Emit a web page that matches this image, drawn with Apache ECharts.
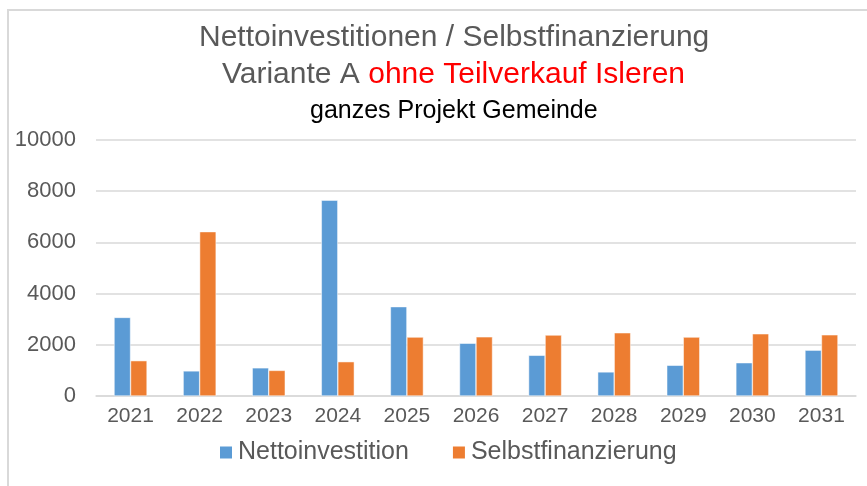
<!DOCTYPE html>
<html>
<head>
<meta charset="utf-8">
<script src="https://cdn.jsdelivr.net/npm/echarts@6/dist/echarts.min.js"></script>
<style>
    html, body { margin: 0; padding: 0; background: #fff; }
    #chart { width: 867px; height: 486px; }
</style>
</head>
<body>
<div id="chart"></div>
<script>
const years = ['2021', '2022', '2023', '2024', '2025', '2026', '2027', '2028', '2029', '2030', '2031'];
const nettoinvestition = [3070, 980, 1100, 7650, 3490, 2060, 1590, 940, 1200, 1300, 1790];
const selbstfinanzierung = [1380, 6420, 1000, 1340, 2300, 2310, 2380, 2470, 2300, 2430, 2390];
const yTicks = [0, 2000, 4000, 6000, 8000, 10000];

const font = 'Liberation Sans, Arial, sans-serif';
const gray = '#595959';

let chart = echarts.init(document.getElementById('chart'), null, { renderer: 'canvas' });

let option = {
    animation: false,
    backgroundColor: '#fff',
    color: ['#5B9BD5', '#ED7D31'],
    graphic: [
        {
            type: 'rect',
            shape: { x: 8, y: 10, width: 900, height: 520 },
            style: { fill: 'none', stroke: '#D9D9D9', lineWidth: 2 },
            silent: true
        }
    ],
    title: [
        {
            text: 'Nettoinvestitionen / Selbstfinanzierung',
            left: 199,
            top: 23,
            padding: 0,
            textStyle: { fontFamily: font, fontSize: 30, fontWeight: 'normal', color: gray, lineHeight: 30 }
        },
        {
            text: '{g|Variante A }{r|ohne Teilverkauf Isleren}',
            left: 222,
            top: 60,
            padding: 0,
            textStyle: {
                fontFamily: font,
                fontSize: 30,
                fontWeight: 'normal',
                lineHeight: 30,
                rich: {
                    g: { fontFamily: font, fontSize: 30, fontWeight: 'normal', color: gray, lineHeight: 30 },
                    r: { fontFamily: font, fontSize: 30, fontWeight: 'normal', color: '#FF0000', lineHeight: 30 }
                }
            }
        },
        {
            text: 'ganzes Projekt Gemeinde',
            left: 310,
            top: 99,
            padding: 0,
            textStyle: { fontFamily: font, fontSize: 25, fontWeight: 'normal', color: '#000', lineHeight: 25 }
        }
    ],
    legend: {
        left: 218,
        top: 440,
        padding: 0,
        itemWidth: 14,
        itemHeight: 14,
        itemGap: 42,
        icon: 'rect',
        textStyle: { fontFamily: font, fontSize: 25, color: gray },
        data: ['Nettoinvestition', 'Selbstfinanzierung']
    },
    grid: {
        left: 96,
        right: 11,
        top: 140,
        bottom: 90,
        containLabel: false
    },
    xAxis: {
        type: 'category',
        data: years,
        axisLine: { lineStyle: { color: '#D9D9D9', width: 1.5 } },
        axisTick: { show: false },
        axisLabel: { fontFamily: font, fontSize: 21, color: gray, margin: 10 }
    },
    yAxis: {
        type: 'value',
        min: yTicks[0],
        max: yTicks[yTicks.length - 1],
        interval: 2000,
        axisLine: { show: false },
        axisTick: { show: false },
        splitLine: { lineStyle: { color: '#D9D9D9', width: 1.5 } },
        axisLabel: {
            fontFamily: font,
            fontSize: 22,
            color: gray,
            margin: 20,
            formatter: v => String(v)
        }
    },
    series: [
        {
            name: 'Nettoinvestition',
            type: 'bar',
            data: nettoinvestition,
            barWidth: 16.5,
            barGap: '0%',
            itemStyle: { borderColor: '#fff', borderWidth: 0.5 }
        },
        {
            name: 'Selbstfinanzierung',
            type: 'bar',
            data: selbstfinanzierung,
            barWidth: 16.5,
            barGap: '0%',
            itemStyle: { borderColor: '#fff', borderWidth: 0.5 }
        }
    ]
};

option && chart.setOption(option);
</script>
</body>
</html>
